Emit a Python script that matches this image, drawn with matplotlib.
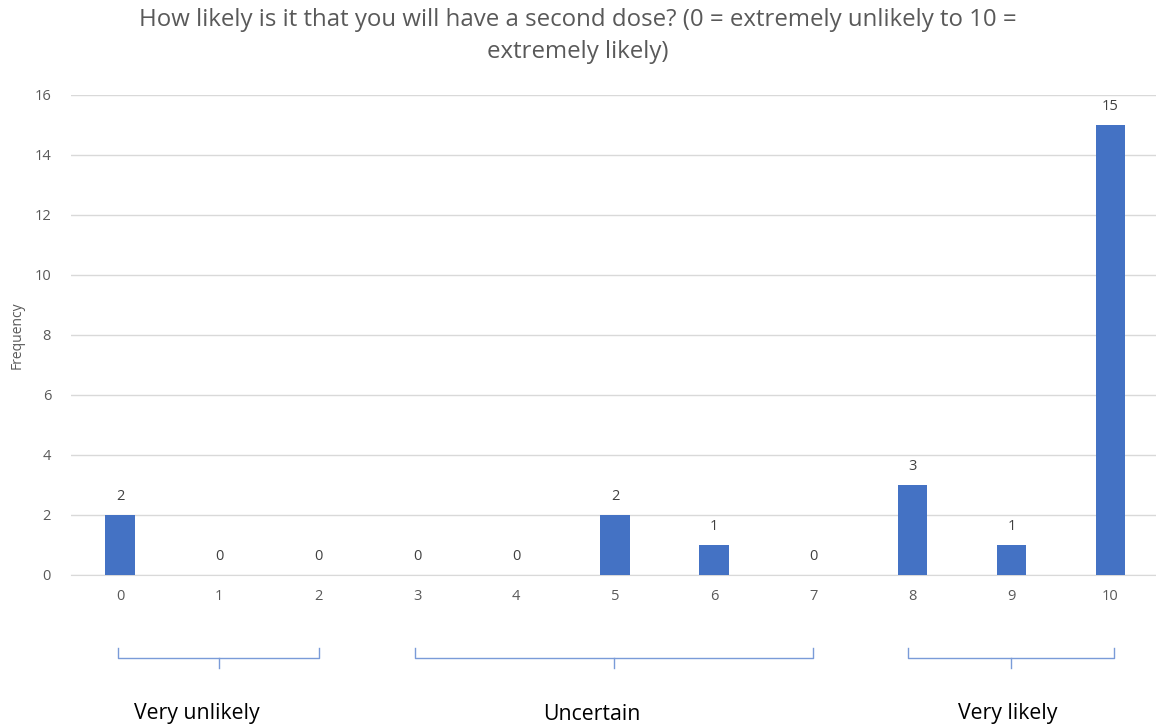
import matplotlib.pyplot as plt
from matplotlib.transforms import blended_transform_factory

plt.rcParams['font.family'] = ['Open Sans', 'DejaVu Sans']

scores = [0, 1, 2, 3, 4, 5, 6, 7, 8, 9, 10]
counts = [2, 0, 0, 0, 0, 2, 1, 0, 3, 1, 15]
y_ticks = [0, 2, 4, 6, 8, 10, 12, 14, 16]

groups = ["Very unlikely", "Uncertain", "Very likely"]
group_start = [-0.02, 2.98, 7.96]
group_end = [2.01, 7.0, 10.04]
group_label_x = [0.78, 4.76, 8.96]

fig = plt.figure(figsize=(11.56, 7.28), dpi=100)
ax = fig.add_axes([70.5 / 1156, 153 / 728, (1156 - 70.5) / 1156, 480 / 728])

ax.bar(scores, counts, width=0.3, color='#4472C4', zorder=3)
for x, c in zip(scores, counts):
    ax.text(x, c + 0.35, str(c), ha='center', va='bottom', fontsize=10.5, color='#404040')

ax.set_xlim(-0.5, 10.46)
ax.set_ylim(0, 16)
ax.set_xticks(scores)
ax.set_xticklabels([str(s) for s in scores])
ax.set_yticks(y_ticks)
ax.tick_params(length=0, labelsize=10.5, labelcolor='#595959')
ax.tick_params(axis='x', pad=10)
ax.tick_params(axis='y', pad=14)
ax.grid(axis='y', color='#D9D9D9', lw=1, zorder=0)
for s in ['top', 'right', 'left']:
    ax.spines[s].set_visible(False)
ax.spines['bottom'].set_color('#D9D9D9')

fig.text(17 / 1156, (728 - 335) / 728, "Frequency", rotation=90, ha='center', va='center',
         fontsize=10, color='#595959')

fig.text(0.5, (728 - 20) / 728, "How likely is it that you will have a second dose? (0 = extremely unlikely to 10 =",
         ha='center', va='center', fontsize=17.3, color='#595959')
fig.text(0.5, (728 - 52) / 728, "extremely likely)", ha='center', va='center', fontsize=17.3, color='#595959')

# brackets under the axis
tr = blended_transform_factory(ax.transData, fig.transFigure)
y_top = (728 - 648) / 728
y_mid = (728 - 658) / 728
y_bot = (728 - 668) / 728
for name, a, b, lx in zip(groups, group_start, group_end, group_label_x):
    m = (a + b) / 2
    ax.plot([a, a, b, b], [y_top, y_mid, y_mid, y_top], transform=tr, color='#7A9BD8',
            lw=1.0, clip_on=False, solid_joinstyle='round')
    ax.plot([m, m], [y_mid, y_bot], transform=tr, color='#7A9BD8', lw=1.0, clip_on=False)
    fig.text((120 + lx * 99.1) / 1156, (728 - 714) / 728, name, ha='center', va='center',
             fontsize=15.3, color='black')

fig.savefig('out.png', dpi=100)
